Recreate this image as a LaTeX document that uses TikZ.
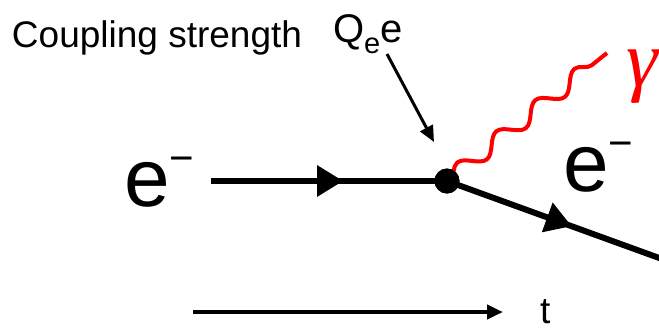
\documentclass[tikz,border=0pt]{standalone}
\usepackage{fontspec}
\setmainfont{Liberation Sans}
\newfontfamily\gfont{Liberation Serif}
\usetikzlibrary{arrows.meta,decorations.markings,decorations.pathmorphing}
\tikzset{
  fermion/.style={line width=6pt,
    postaction={decorate,decoration={markings,
      mark=at position #1 with {\arrow{Triangle[length=26pt,width=30pt]}}}}},
  photon/.style={red,line width=4pt,decorate,
    decoration={snake,segment length=50pt,amplitude=8pt,pre length=4pt,post length=2pt}},
  thinarrow/.style={line width=3pt,-{Triangle[length=16pt,width=14pt]}},
  lbl/.style={inner sep=0pt,outer sep=0pt}
}
\begin{document}
\begin{tikzpicture}[x=1pt,y=-1pt]
\useasboundingbox (0,0) rectangle (659,330);
\clip (0,0) rectangle (659,330);
% labels
\node[lbl,anchor=base west] (cs) at (12,47) {\fontsize{37}{40}\selectfont Coupling strength};
\node[lbl,anchor=base west] (q) at (333,42) {\fontsize{40}{42}\selectfont Q\raisebox{-11pt}{\fontsize{29}{30}\selectfont e}e};
\node[lbl,anchor=base west] (el) at (124,206) {\fontsize{82}{90}\selectfont e\raisebox{34pt}{\fontsize{42}{44}\selectfont −}};
\node[lbl,anchor=base west] (er) at (563,191) {\fontsize{82}{90}\selectfont e\raisebox{34pt}{\fontsize{42}{44}\selectfont −}};
\node[lbl,anchor=base west,text=red] (g) at (626,86) {\gfont\itshape\fontsize{80}{80}\selectfont γ};
\node[lbl,anchor=base west] (t) at (540,323) {\fontsize{37}{40}\selectfont t};
% vertex
\node[circle,fill=black,minimum size=25pt,inner sep=0pt] (v) at (447,181) {};
\coordinate (in) at (211,181);
\coordinate (out) at (662,259);
\coordinate (gend) at (607,53);
\coordinate (qa) at (387,54);
\coordinate (qb) at (434,142);
\coordinate (ta) at (193,312);
\coordinate (tb) at (503,312);
% lines
\draw[fermion=0.56] (in) -- (v.center);
\draw[fermion=0.58] (v.center) -- (out);
\draw[photon] (v.center) -- (gend);
\node[circle,fill=black,minimum size=25pt,inner sep=0pt] at (v) {};
\draw[thinarrow] (qa) -- (qb);
\draw[thinarrow,line width=4pt] (ta) -- (tb);
\end{tikzpicture}
\end{document}
